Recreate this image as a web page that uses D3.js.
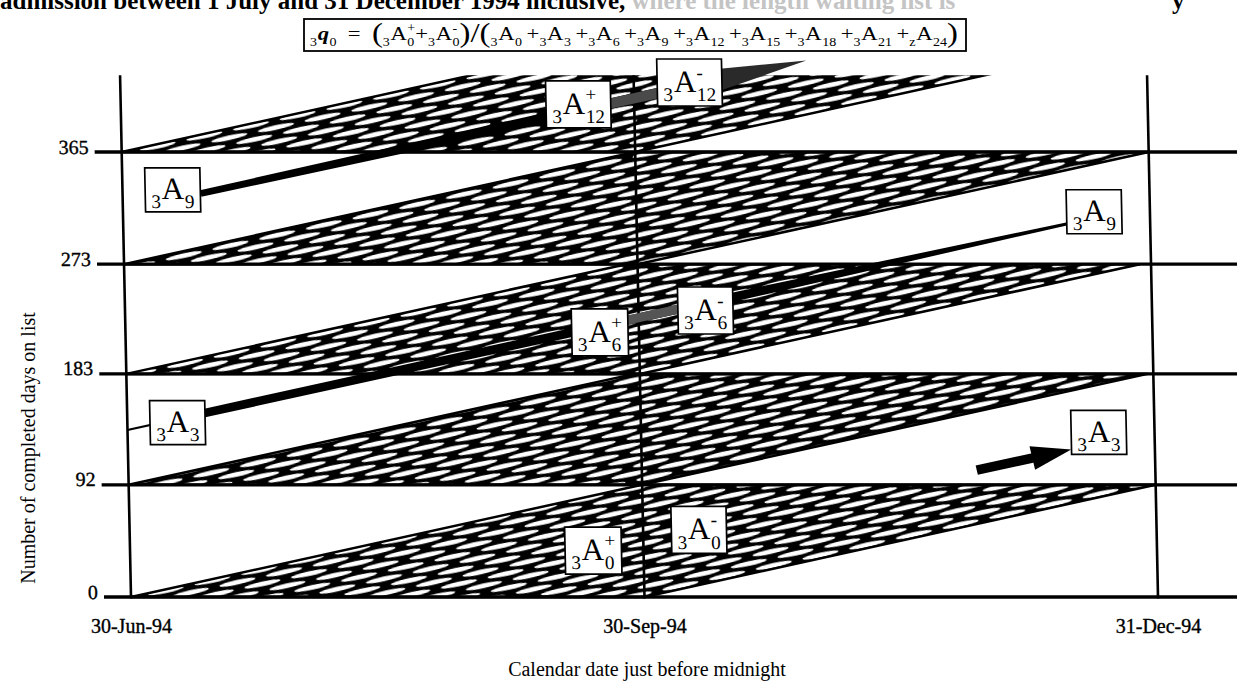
<!DOCTYPE html>
<html><head><meta charset="utf-8">
<script src="https://cdn.jsdelivr.net/npm/d3@7"></script>
<style>
body{margin:0;background:#fff;}
svg{display:block;}
text{font-family:"Liberation Serif","Times New Roman",serif;fill:#000;}
</style></head>
<body><svg id="chart" width="1237" height="686"></svg>
<script>
// ---------- data ----------
const bandTicks = [0, 92, 183, 273, 365];
const bandTickLabels = ["0", "92", "183", "273", "365"];
const topBandEnd = 457;
const chartTopDays = 428;
const dateTicks = ["1994-06-30", "1994-09-30", "1994-12-31"];
const dateTickLabels = ["30-Jun-94", "30-Sep-94", "31-Dec-94"];
const entryStart = "1994-06-30";
const entryEnd = "1994-09-30";

const labelPre  = ["3", "3", "3", "3", "3", "3", "3", "3", "3", "3"];
const labelSub  = ["9", "3", "12", "12", "6", "6", "0", "0", "9", "3"];
const labelSup  = ["", "", "+", "-", "+", "-", "+", "-", "", ""];
const labelDate = ["1994-07-09", "1994-07-09", "1994-09-20", "1994-10-10", "1994-09-23", "1994-10-12", "1994-09-21", "1994-10-10", "1994-12-21", "1994-12-21"];
const labelDays = [334, 143, 404, 422, 217, 235, 38, 55, 316, 135];

const arrowStartDate = ["1994-07-14", "1994-06-30", "1994-11-29"];
const arrowStartDays = [331, 137, 104];
const arrowEndDate   = ["1994-10-31", "1994-12-16", "1994-12-16"];

const formulaNumSub = ["0", "0"];
const formulaNumSup = ["+", "-"];
const formulaDenPre = ["3", "3", "3", "3", "3", "3", "3", "3", "z"];
const formulaDenSub = ["0", "3", "6", "9", "12", "15", "18", "21", "24"];

const headerText = "admission between 1 July and 31 December 1994 inclusive,";
const headerFaded = "where the length waiting list is";
const yTitle = "Number of completed days on list";
const xTitle = "Calendar date just before midnight";

// ---------- scales ----------
const parse = d3.utcParse("%Y-%m-%d");
const x = d3.scaleUtc().domain([parse(dateTicks[0]), parse(dateTicks[2])]).range([131, 1158]);
const y = d3.scaleLinear().domain([0, 365]).range([597, 152]);
const DAY = 864e5;
const addDays = (d, n) => new Date(+d + n * DAY);
const daysBetween = (a, b) => Math.round((b - a) / DAY);

const svg = d3.select("#chart");
const defs = svg.append("defs");

// cohort angle from scales
const d0 = parse(dateTicks[0]);
const ang = Math.atan2(y(0) - y(100), x(addDays(d0, 100)) - x(d0)) * 180 / Math.PI;

const PW = 48, PH = 14;
const pat = defs.append("pattern").attr("id", "hatch").attr("patternUnits", "userSpaceOnUse")
  .attr("width", PW).attr("height", PH).attr("patternTransform", `rotate(${-ang})`);
pat.append("rect").attr("width", PW).attr("height", PH).attr("fill", "#000");
[[12, 3.5], [36, 10.5], [12 + PW, 3.5], [36 - PW, 10.5]].forEach(([cx, cy]) =>
  pat.append("ellipse").attr("cx", cx).attr("cy", cy).attr("rx", 18.5).attr("ry", 2.4).attr("fill", "#fff"));

defs.append("clipPath").attr("id", "plotClip").append("rect")
  .attr("x", -100).attr("y", y(chartTopDays)).attr("width", 1500).attr("height", 700);

// scanned page is slightly skewed
const g = svg.append("g").attr("transform", `translate(0,${y(0)}) skewX(1.2) translate(0,${-y(0)})`);

// ---------- hatched cohort parallelograms ----------
const hatchG = g.append("g").attr("clip-path", "url(#plotClip)");
const sDate = parse(entryStart), eDate = parse(entryEnd);
bandTicks.forEach((a, i) => {
  const b = i + 1 < bandTicks.length ? bandTicks[i + 1] : topBandEnd;
  const span = b - a;
  const pts = [
    [x(sDate), y(a)], [x(eDate), y(a)],
    [x(addDays(eDate, span)), y(b)], [x(addDays(sDate, span)), y(b)]
  ];
  hatchG.append("path").attr("d", d3.line()(pts) + "Z")
    .attr("fill", "url(#hatch)").attr("stroke", "#000").attr("stroke-width", 2.5).attr("stroke-linejoin", "miter");
});

// ---------- grid lines ----------
g.selectAll("line.h").data(bandTicks).join("line").attr("class", "h")
  .attr("x1", 104).attr("x2", 1280).attr("y1", d => y(d)).attr("y2", d => y(d))
  .attr("stroke", "#000").attr("stroke-width", 3.4);
g.selectAll("line.v").data(dateTicks).join("line").attr("class", "v")
  .attr("x1", d => x(parse(d))).attr("x2", d => x(parse(d)))
  .attr("y1", y(chartTopDays)).attr("y2", y(0) + 1.5)
  .attr("stroke", "#000").attr("stroke-width", 2.6);

// y axis tick labels
const yAx = g.append("g").attr("transform", "translate(98,0)")
  .call(d3.axisLeft(y).tickValues(bandTicks).tickFormat((d, i) => bandTickLabels[i]).tickSize(0).tickPadding(0));
yAx.select(".domain").remove();
yAx.selectAll("text").attr("dy", "0.05em").attr("font-size", 20)
  .attr("font-family", "Liberation Serif").attr("stroke", "#000").attr("stroke-width", 0.35);

// ---------- arrows ----------
function cohortPt(sd, sv, off) { return [x(addDays(sd, off)), y(sv + off)]; }
function normal(sd, sv) {
  const a = cohortPt(sd, sv, 0), b = cohortPt(sd, sv, 100);
  const L = Math.hypot(b[0] - a[0], b[1] - a[1]);
  return [-(b[1] - a[1]) / L, (b[0] - a[0]) / L];
}
function taper(sd, sv, stops) {
  const n = normal(sd, sv);
  const left = [], right = [];
  stops.forEach(([o, w]) => {
    const p = cohortPt(sd, sv, o);
    left.push([p[0] + n[0] * w / 2, p[1] + n[1] * w / 2]);
    right.push([p[0] - n[0] * w / 2, p[1] - n[1] * w / 2]);
  });
  return d3.line()(left.concat(right.reverse())) + "Z";
}
function head(sd, sv, ob, ot, hw) {
  const n = normal(sd, sv);
  const p = cohortPt(sd, sv, ob), t = cohortPt(sd, sv, ot);
  return d3.line()([[p[0] + n[0] * hw, p[1] + n[1] * hw], t, [p[0] - n[0] * hw, p[1] - n[1] * hw]]) + "Z";
}
const arrG = g.append("g");
{
  // arrow 1: 3A9 -> 3A12
  const sd = parse(arrowStartDate[0]), sv = arrowStartDays[0];
  const len = daysBetween(sd, parse(arrowEndDate[0]));
  arrG.append("path").attr("d", taper(sd, sv, [[0, 6.5], [60, 10], [len - 15, 11]])).attr("fill", "#000");
  arrG.append("path").attr("d", taper(sd, sv, [[73, 10], [len - 15, 11]])).attr("fill", "#4a4a4a");
  arrG.append("path").attr("d", head(sd, sv, len - 16, len, 11)).attr("fill", "#2a2a2a");
}
{
  // arrow 2: 3A3 -> 3A6 -> 3A9
  const sd = parse(arrowStartDate[1]), sv = arrowStartDays[1];
  const len = daysBetween(sd, parse(arrowEndDate[1]));
  arrG.append("path").attr("d", taper(sd, sv, [[0, 2.2], [14, 2.2]])).attr("fill", "#000");
  arrG.append("path").attr("d", taper(sd, sv, [[13, 8.5], [84, 9], [110, 9], [len, 3]])).attr("fill", "#000");
  arrG.append("path").attr("d", taper(sd, sv, [[89, 9], [101, 9]])).attr("fill", "#555");
}
{
  // arrow 3: into 3A3 (right)
  const sd = parse(arrowStartDate[2]), sv = arrowStartDays[2];
  const len = daysBetween(sd, parse(arrowEndDate[2]));
  arrG.append("path").attr("d", taper(sd, sv, [[0, 9.5], [len - 6, 9.5]])).attr("fill", "#000");
  arrG.append("path").attr("d", head(sd, sv, len - 7, len, 12)).attr("fill", "#000");
}

// ---------- symbol renderer ----------
function symbol(sel, pre, main, sub, sup, F, mainStyle) {
  const small = F * 0.62;
  let cx = 0;
  const t = (str, size, yy, st) => {
    const el = sel.append("text").attr("x", cx).attr("y", yy).attr("font-size", size).text(str);
    if (st) { el.attr("font-style", st.italic ? "italic" : null).attr("font-weight", st.bold ? "bold" : null); }
    return el.node().getComputedTextLength();
  };
  if (pre) cx += t(pre, small, F * 0.3) + F * 0.03;
  cx += t(main, F, 0, mainStyle) + F * 0.02;
  let ws = 0, wp = 0;
  if (sub) ws = t(sub, small, F * 0.3);
  if (sup) wp = t(sup, small, -F * 0.42);
  cx += Math.max(ws, wp);
  return cx;
}

// ---------- label boxes ----------
const labG = g.append("g");
labelSub.forEach((s, i) => {
  const cx = x(parse(labelDate[i])), cy = y(labelDays[i]);
  const box = labG.append("g").attr("transform", `translate(${cx},${cy})`);
  const rect = box.append("rect");
  const F = 31;
  const inner = box.append("g");
  const w = symbol(inner, labelPre[i], "A", s, labelSup[i], F);
  inner.attr("transform", `translate(${-w / 2},${F * 0.3})`);
  const h = labelSup[i] ? 47 : 44;
  rect.attr("x", -w / 2 - 6).attr("y", -h / 2).attr("width", w + 12).attr("height", h)
    .attr("fill", "#fff").attr("stroke", "#000").attr("stroke-width", 1.7);
});

// ---------- x axis ----------
const xAx = svg.append("g").attr("transform", `translate(0,${y(0)})`)
  .call(d3.axisBottom(x).tickValues(dateTicks.map(parse)).tickFormat((d, i) => dateTickLabels[i]).tickSize(0).tickPadding(22));
xAx.select(".domain").remove();
xAx.selectAll("text").attr("font-size", 20).attr("font-family", "Liberation Serif")
  .attr("stroke", "#000").attr("stroke-width", 0.35);

// titles
svg.append("text").attr("transform", "translate(30,448) rotate(-90)").attr("text-anchor", "middle")
  .attr("dominant-baseline", "middle").attr("font-size", 20).text(yTitle);
svg.append("text").attr("x", 647).attr("y", 676).attr("text-anchor", "middle")
  .attr("font-size", 20).text(xTitle);

// header (cut off at top)
const hdr = svg.append("text").attr("x", 0).attr("y", 9).attr("font-size", 25).attr("font-weight", "bold");
hdr.append("tspan").text(headerText + " ");
hdr.append("tspan").attr("fill", "#c4c4c4").text(headerFaded);
svg.append("text").attr("x", 1172).attr("y", 9).attr("font-size", 25).attr("font-weight", "bold").text("y");

// ---------- formula ----------
svg.append("rect").attr("x", 304).attr("y", 19).attr("width", 662).attr("height", 32)
  .attr("fill", "#fff").attr("stroke", "#000").attr("stroke-width", 1.8);
const fG = svg.append("g");
const FF = 19;
let fx = 0;
function plain(str, size, dy) {
  const el = fG.append("text").attr("x", fx).attr("y", dy || 0).attr("font-size", size || FF).text(str);
  fx += el.node().getComputedTextLength();
}
function sym(pre, main, sub, sup, st) {
  const sg = fG.append("g").attr("transform", `translate(${fx},0)`);
  fx += symbol(sg, pre, main, sub, sup, FF, st);
}
sym("3", "q", "0", "", {italic: true, bold: true});
plain("\u2002=\u2002");
plain("(", FF * 1.45, FF * 0.12);
formulaNumSub.forEach((s, i) => { if (i) plain("+"); sym("3", "A", s, formulaNumSup[i]); });
plain(")", FF * 1.45, FF * 0.12);
plain("/", FF * 1.45, FF * 0.12);
plain("(", FF * 1.45, FF * 0.12);
formulaDenSub.forEach((s, i) => { if (i) plain("\u2009+"); sym(formulaDenPre[i], "A", s, ""); });
plain(")", FF * 1.45, FF * 0.12);
fG.attr("transform", `translate(310,40) scale(${648 / fx},1)`);
</script>
</body></html>
